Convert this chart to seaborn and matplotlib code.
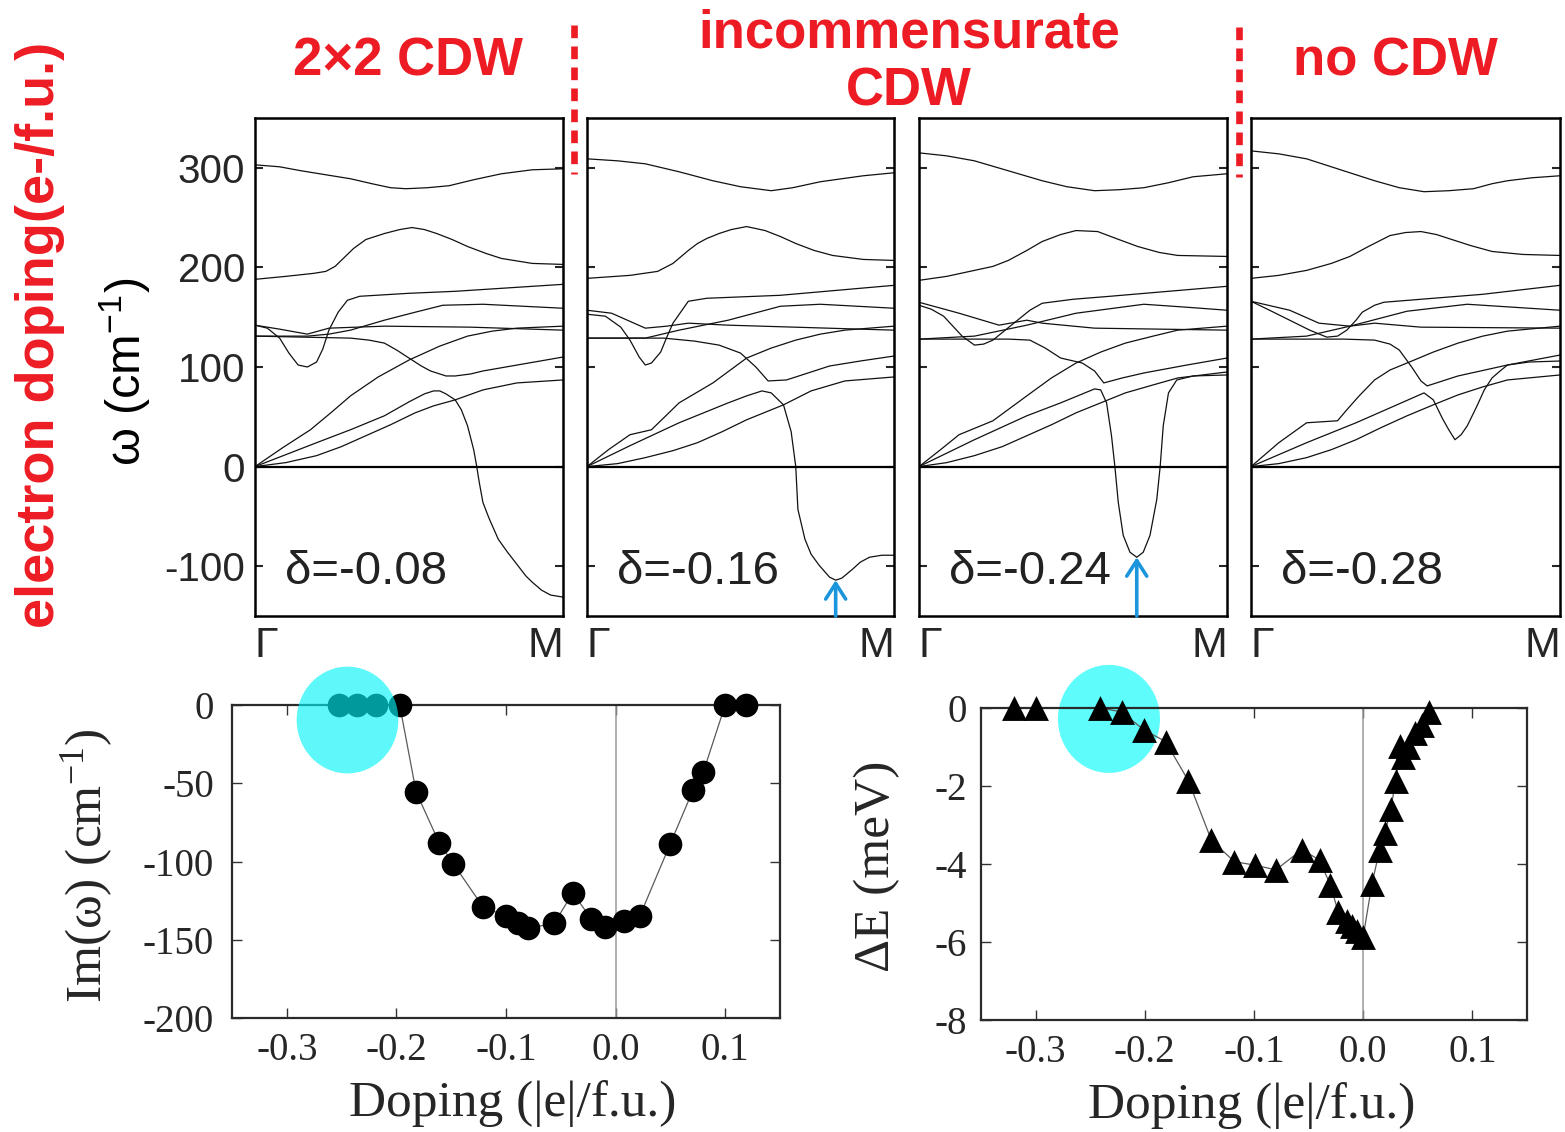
import numpy as np
import pandas as pd
import matplotlib
matplotlib.use("Agg")
import matplotlib.pyplot as plt
import seaborn as sns
from matplotlib.patches import Ellipse
from matplotlib.lines import Line2D

# ---------------------------------------------------------------- data
# phonon branches along Gamma-M (q = fraction of path, value = omega in cm^-1)
p08_T = [(0, 303), (.08, 301), (.15, 297), (.23, 293), (.31, 289), (.38, 284), (.44, 280), (.49, 279), (.56, 280), (.63, 282), (.71, 288), (.80, 294), (.90, 298), (1, 299)]
p08_S = [(0, 188), (.10, 191), (.19, 194), (.23, 196), (.26, 201), (.29, 210), (.32, 219), (.36, 228), (.42, 234), (.47, 238), (.51, 240), (.55, 238), (.59, 234), (.64, 228), (.69, 221), (.75, 214), (.80, 209), (.90, 204), (1, 203)]
p08_A = [(0, 142), (.04, 139), (.08, 129), (.11, 114), (.14, 102), (.17, 100), (.20, 105), (.22, 118), (.24, 137), (.27, 155), (.30, 167), (.34, 171), (.50, 174), (.65, 176), (.80, 179), (1, 183)]
p08_B = [(0, 142), (.08, 138), (.17, 133), (.24, 139), (.42, 141), (.70, 140), (1, 137)]
p08_C = [(0, 131), (.17, 131), (.24, 133), (.31, 137), (.42, 147), (.52, 155), (.61, 162), (.74, 163), (.87, 161), (1, 159)]
p08_D = [(0, 131), (.31, 129), (.37, 127), (.42, 124), (.46, 117), (.50, 109), (.54, 101), (.57, 96), (.62, 91), (.65, 91), (.70, 93), (.74, 96), (.87, 103), (1, 110)]
p08_E = [(0, 0), (.09, 19), (.18, 37), (.25, 55), (.31, 71), (.40, 90), (.50, 107), (.60, 121), (.69, 131), (.77, 136), (.85, 139), (1, 141)]
p08_F = [(0, 0), (.10, 12), (.20, 24), (.31, 37), (.42, 51), (.50, 65), (.55, 73), (.58, 76), (.60, 76), (.62, 73), (.65, 67), (.67, 57), (.69, 41), (.71, 17), (.72, 0), (.725, -10), (.73, -19), (.74, -36), (.76, -52), (.79, -73), (.82, -86), (.85, -98), (.88, -110), (.90, -116), (.93, -124), (.96, -129), (1, -131)]
p08_G = [(0, 0), (.10, 4), (.20, 11), (.28, 20), (.36, 31), (.44, 42), (.52, 54), (.58, 61), (.65, 67), (.74, 77), (.85, 84), (1, 87)]

p16_T = [(0, 309), (.10, 307), (.19, 304), (.30, 296), (.41, 287), (.50, 281), (.60, 277), (.67, 280), (.76, 286), (.83, 289), (.90, 292), (1, 295)]
p16_S = [(0, 189), (.14, 192), (.23, 196), (.28, 204), (.33, 217), (.36, 224), (.39, 229), (.43, 234), (.47, 238), (.52, 241), (.58, 237), (.63, 231), (.68, 224), (.74, 217), (.80, 212), (.90, 208), (1, 207)]
p16_A = [(0, 153), (.06, 151), (.11, 140), (.14, 127), (.17, 110), (.19, 102), (.21, 104), (.24, 115), (.26, 130), (.28, 144), (.33, 166), (.39, 169), (.63, 172), (1, 182)]
p16_B = [(0, 157), (.08, 154), (.19, 139), (.26, 141), (.33, 144), (.46, 142), (1, 137)]
p16_C = [(0, 129), (.19, 129), (.30, 137), (.46, 147), (.63, 161), (.76, 163), (.88, 161), (1, 159)]
p16_D = [(0, 129), (.25, 129), (.35, 126), (.43, 122), (.50, 114), (.55, 100), (.59, 86), (.65, 87), (.72, 94), (.79, 101), (.89, 106), (1, 111)]
p16_E = [(0, 0), (.07, 17), (.14, 32), (.21, 37), (.30, 64), (.41, 84), (.52, 109), (.60, 119), (.68, 127), (.76, 133), (.84, 137), (1, 141)]
p16_F = [(0, 0), (.14, 21), (.30, 44), (.46, 64), (.52, 71), (.57, 76), (.60, 74), (.64, 62), (.665, 35), (.68, 0), (.687, -43), (.71, -73), (.73, -88), (.756, -99), (.79, -111), (.81, -114), (.83, -112), (.865, -103), (.89, -96), (.92, -91), (.96, -89), (1, -89)]
p16_G = [(0, 0), (.10, 3), (.19, 9), (.28, 16), (.36, 24), (.44, 35), (.52, 47), (.64, 62), (.73, 76), (.84, 86), (1, 90)]

p24_T = [(0, 315), (.09, 312), (.18, 307), (.29, 297), (.40, 287), (.48, 281), (.57, 277), (.65, 278), (.73, 280), (.81, 285), (.89, 291), (1, 294)]
p24_S = [(0, 187), (.09, 191), (.18, 197), (.24, 201), (.29, 207), (.35, 217), (.40, 226), (.46, 233), (.51, 237), (.58, 236), (.64, 229), (.71, 221), (.78, 215), (.84, 212), (1, 211)]
p24_A = [(0, 162), (.04, 158), (.08, 151), (.11, 141), (.14, 131), (.18, 122), (.21, 123), (.24, 127), (.28, 137), (.32, 147), (.36, 157), (.40, 164), (.50, 168), (.62, 171), (1, 181)]
p24_B = [(0, 165), (.13, 154), (.26, 142), (.35, 147), (.40, 144), (.57, 139), (1, 137)]
p24_C = [(0, 128), (.18, 131), (.35, 142), (.51, 154), (.73, 163), (.87, 160), (1, 157)]
p24_D = [(0, 128), (.29, 128), (.36, 127), (.41, 119), (.46, 109), (.53, 104), (.57, 96), (.60, 84), (.66, 89), (.73, 94), (.87, 102), (1, 109)]
p24_E = [(0, 0), (.07, 17), (.13, 32), (.24, 46), (.35, 71), (.43, 89), (.51, 104), (.59, 115), (.67, 124), (.76, 131), (.84, 137), (1, 141)]
p24_F = [(0, 0), (.18, 27), (.35, 51), (.46, 64), (.57, 78), (.59, 77), (.609, 64), (.625, 31), (.636, 0), (.647, -36), (.663, -69), (.685, -86), (.707, -91), (.728, -86), (.75, -69), (.772, -33), (.783, 0), (.793, 41), (.81, 74), (.837, 87), (.89, 91), (1, 92)]
p24_G = [(0, 0), (.09, 4), (.18, 11), (.27, 20), (.35, 31), (.43, 42), (.51, 54), (.59, 64), (.67, 74), (.76, 82), (.84, 89), (1, 95)]

p28_T = [(0, 317), (.09, 314), (.18, 309), (.29, 298), (.40, 287), (.48, 280), (.56, 276), (.64, 277), (.72, 279), (.78, 284), (.83, 287), (.91, 290), (1, 292)]
p28_S = [(0, 189), (.09, 192), (.18, 197), (.26, 204), (.32, 211), (.38, 221), (.45, 232), (.50, 235), (.55, 236), (.60, 233), (.64, 229), (.71, 222), (.78, 216), (.88, 213), (1, 212)]
p28_A = [(0, 166), (.06, 157), (.125, 147), (.19, 137), (.245, 130), (.28, 131), (.31, 137), (.34, 147), (.36, 155), (.40, 162), (.43, 165), (.51, 167), (.75, 173), (1, 182)]
p28_B = [(0, 166), (.125, 157), (.22, 144), (.32, 141), (.40, 144), (.55, 140), (1, 139)]
p28_C = [(0, 128), (.18, 131), (.32, 141), (.505, 156), (.70, 163), (.85, 160), (1, 157)]
p28_D = [(0, 128), (.30, 128), (.40, 127), (.45, 123), (.48, 117), (.52, 100), (.55, 86), (.57, 81), (.62, 86), (.67, 91), (.83, 102), (1, 112)]
p28_E = [(0, 0), (.09, 24), (.18, 44), (.28, 46), (.31, 57), (.35, 71), (.40, 87), (.45, 97), (.505, 104), (.59, 115), (.67, 124), (.75, 131), (.83, 136), (1, 141)]
p28_F = [(0, 0), (.09, 12), (.18, 24), (.34, 44), (.45, 59), (.56, 74), (.59, 67), (.62, 48), (.64, 37), (.66, 27), (.68, 32), (.70, 41), (.73, 60), (.755, 77), (.78, 89), (.81, 97), (.83, 102), (.90, 105), (1, 106)]
p28_G = [(0, 0), (.09, 3), (.18, 9), (.26, 17), (.34, 27), (.42, 39), (.505, 51), (.59, 62), (.67, 72), (.75, 80), (.83, 87), (1, 92)]

panel_labels = ["δ=-0.08", "δ=-0.16", "δ=-0.24", "δ=-0.28"]
panel_branches = [
    [p08_T, p08_S, p08_A, p08_B, p08_C, p08_D, p08_E, p08_F, p08_G],
    [p16_T, p16_S, p16_A, p16_B, p16_C, p16_D, p16_E, p16_F, p16_G],
    [p24_T, p24_S, p24_A, p24_B, p24_C, p24_D, p24_E, p24_F, p24_G],
    [p28_T, p28_S, p28_A, p28_B, p28_C, p28_D, p28_E, p28_F, p28_G],
]
soft_branch = [p08_F, p16_F, p24_F, p28_F]
arrow_panels = [False, True, True, False]
omega_ticks = [-100, 0, 100, 200, 300]
path_labels = ["Γ", "M"]

# bottom-left: imaginary frequency vs doping
doping_im = [-0.252, -0.236, -0.219, -0.197, -0.182, -0.161, -0.148, -0.121, -0.100, -0.089,
             -0.080, -0.056, -0.039, -0.022, -0.010, 0.008, 0.022, 0.050, 0.0705, 0.080, 0.100, 0.119]
im_omega = [0, 0, 0, 0, -55.6, -88, -101.5, -129, -135, -139.5,
            -142.7, -139.5, -120, -137, -141.6, -138, -135, -88.5, -54.6, -42.9, 0, 0]

# bottom-right: energy gain vs doping
doping_dE = [-0.32, -0.30, -0.241, -0.221, -0.201, -0.181, -0.160, -0.139, -0.118, -0.099,
             -0.080, -0.056, -0.040, -0.030, -0.023, -0.015, -0.010, -0.006, 0.000, 0.008,
             0.015, 0.020, 0.025, 0.030, 0.034, 0.036, 0.041, 0.047, 0.054, 0.060]
delta_E = [0, 0, 0, -0.1, -0.56, -0.86, -1.87, -3.39, -3.94, -4.03,
           -4.15, -3.63, -3.9, -4.54, -5.22, -5.45, -5.6, -5.73, -5.86, -4.51,
           -3.64, -3.21, -2.6, -1.86, -0.97, -1.26, -0.99, -0.65, -0.44, -0.09]

doping_ticks = [-0.3, -0.2, -0.1, 0.0, 0.1]
doping_ticklabels = ["-0.3", "-0.2", "-0.1", "0.0", "0.1"]
im_ticks = [0, -50, -100, -150, -200]
dE_ticks = [0, -2, -4, -6, -8]

# ---------------------------------------------------------------- style
sns.set_style("ticks")
plt.rcParams["font.family"] = ["Liberation Sans", "DejaVu Sans"]
plt.rcParams["mathtext.default"] = "regular"
plt.rcParams["axes.unicode_minus"] = False

RED = "#ed1c24"
BLUE = "#1b96dc"
SERIF = ["Liberation Serif", "DejaVu Serif"]

W, H = 1565, 1132
fig = plt.figure(figsize=(W / 100, H / 100), dpi=100)
fig.patch.set_facecolor("white")


def add_ax(x0, y0, x1, y1):
    return fig.add_axes([x0 / W, 1 - y1 / H, (x1 - x0) / W, (y1 - y0) / H])


# ---------------------------------------------------------------- top panels
boxes = [(255, 118, 563, 616), (587, 118, 894, 616), (919, 118, 1227, 616), (1251, 118, 1560, 616)]
for i, box in enumerate(boxes):
    ax = add_ax(*box)
    rows = [(b, q, w) for b, pts in enumerate(panel_branches[i]) for q, w in pts]
    df = pd.DataFrame(rows, columns=["branch", "q", "w"])
    sns.lineplot(data=df, x="q", y="w", units="branch", estimator=None, sort=False,
                 color="#111111", lw=0.9, ax=ax, legend=False, solid_joinstyle="round")
    ax.axhline(0, color="black", lw=1.6, zorder=3)
    ax.set_xlim(0, 1)
    ax.set_ylim(-150, 350)
    ax.set_xlabel("")
    ax.set_ylabel("")
    ax.set_yticks(omega_ticks)
    ax.tick_params(axis="y", direction="in", length=6, width=1.5, left=True, right=True,
                   labelleft=(i == 0), labelsize=29, pad=7)
    ax.set_xticks([0, 1])
    ax.set_xticklabels(path_labels, fontsize=31)
    ax.tick_params(axis="x", length=0, pad=7)
    xl = ax.get_xticklabels()
    xl[0].set_ha("left")
    xl[1].set_ha("right")
    for s in ax.spines.values():
        s.set_linewidth(1.8)
        s.set_color("black")
        s.set_visible(True)
    ax.text(0.097, -118, panel_labels[i], fontsize=34, ha="left", va="baseline", color="#222")
    if arrow_panels[i]:
        qs = [p[0] for p in soft_branch[i]]
        ws = [p[1] for p in soft_branch[i]]
        k = int(np.argmin(ws))
        ax.annotate("", xy=(qs[k], ws[k]), xytext=(qs[k], -150),
                    arrowprops=dict(arrowstyle="->,head_length=0.7,head_width=0.45",
                                    color=BLUE, lw=2.6, shrinkA=0, shrinkB=0,
                                    mutation_scale=16))

# titles and separators
fig.text(408 / W, 1 - 75 / H, "2×2 CDW", color=RED, fontsize=38, fontweight="bold",
         ha="center", va="baseline")
fig.text(909 / W, 1 - 47 / H, "incommensurate", color=RED, fontsize=38, fontweight="bold",
         ha="center", va="baseline")
fig.text(909 / W, 1 - 105 / H, "CDW", color=RED, fontsize=38, fontweight="bold",
         ha="center", va="baseline")
fig.text(1395 / W, 1 - 75 / H, "no CDW", color=RED, fontsize=38, fontweight="bold",
         ha="center", va="baseline")
for xs, y0, y1 in [(574, 25, 174), (1238.5, 27, 177)]:
    fig.add_artist(Line2D([xs / W, xs / W], [1 - y0 / H, 1 - y1 / H], transform=fig.transFigure,
                          color=RED, lw=4.8, dashes=(1.9, 1.25), solid_capstyle="butt"))

fig.text(40 / W, 1 - 335 / H, "electron doping(e-/f.u.)", color=RED, fontsize=39,
         fontweight="bold", rotation=90, ha="center", va="center")
fig.text(125 / W, 1 - 372 / H, r"ω (cm$^{-1}$)", color="black", fontsize=35,
         rotation=90, ha="center", va="center")

# ---------------------------------------------------------------- bottom panels
def style_bottom(ax, yticks, ypad):
    ax.set_xlim(-0.35, 0.15)
    ax.set_xticks(doping_ticks)
    ax.set_xticklabels(doping_ticklabels, fontsize=28, family=SERIF)
    ax.set_yticks(yticks)
    ax.set_yticklabels([str(t) for t in yticks], fontsize=28, family=SERIF)
    ax.tick_params(axis="both", direction="in", length=7, width=1.0, top=True, right=True,
                   color="#333")
    ax.tick_params(axis="x", pad=10)
    ax.tick_params(axis="y", pad=ypad)
    ax.set_xlabel("")
    ax.set_ylabel("")
    for s in ax.spines.values():
        s.set_linewidth(1.6)
        s.set_color("#2a2a2a")
        s.set_visible(True)
        s.set_zorder(2.5)


# left: Im(omega)
axl = add_ax(232, 705, 780, 1018)
axl.axvline(0, color="#9a9a9a", lw=1.1, zorder=1)
sns.lineplot(x=doping_im, y=im_omega, estimator=None, color="#5a5a5a", lw=0.9, ax=axl, zorder=2)
sns.scatterplot(x=doping_im, y=im_omega, marker="o", s=290, color="black", linewidth=0,
                ax=axl, zorder=3, clip_on=False, legend=False)
axl.set_ylim(-200, 0)
style_bottom(axl, im_ticks, 13)
axl.add_patch(Ellipse((-0.2446, -9.6), 0.0928, 68.2, facecolor=(0.0, 0.96, 0.98), alpha=0.63,
                      lw=0, zorder=4, clip_on=False))

# right: Delta E
axr = add_ax(981, 708, 1527, 1020)
axr.axvline(0, color="#9a9a9a", lw=1.1, zorder=1)
axr.add_patch(Ellipse((-0.2328, -0.28), 0.0934, 2.77, facecolor="#5ffcfc", lw=0,
                      zorder=1.5, clip_on=False))
sns.lineplot(x=doping_dE, y=delta_E, estimator=None, color="#5a5a5a", lw=0.9, ax=axr, zorder=2)
sns.scatterplot(x=doping_dE, y=delta_E, marker="^", s=320, color="black", linewidth=0,
                ax=axr, zorder=3, clip_on=False, legend=False)
axr.set_ylim(-8, 0)
style_bottom(axr, dE_ticks, 10)

fig.text(87 / W, 1 - 866 / H, r"Im(ω) (cm$^{-1}$)", fontsize=37, family=SERIF, rotation=90,
         ha="center", va="center")
fig.text(513 / W, 1 - 1104 / H, "Doping (|e|/f.u.)", fontsize=37, family=SERIF,
         ha="center", va="center")
fig.text(877 / W, 1 - 866 / H, "ΔE (meV)", fontsize=37, family=SERIF, rotation=90,
         ha="center", va="center")
fig.text(1252 / W, 1 - 1106 / H, "Doping (|e|/f.u.)", fontsize=37, family=SERIF,
         ha="center", va="center")

fig.savefig("out.png", dpi=100, facecolor="white")
